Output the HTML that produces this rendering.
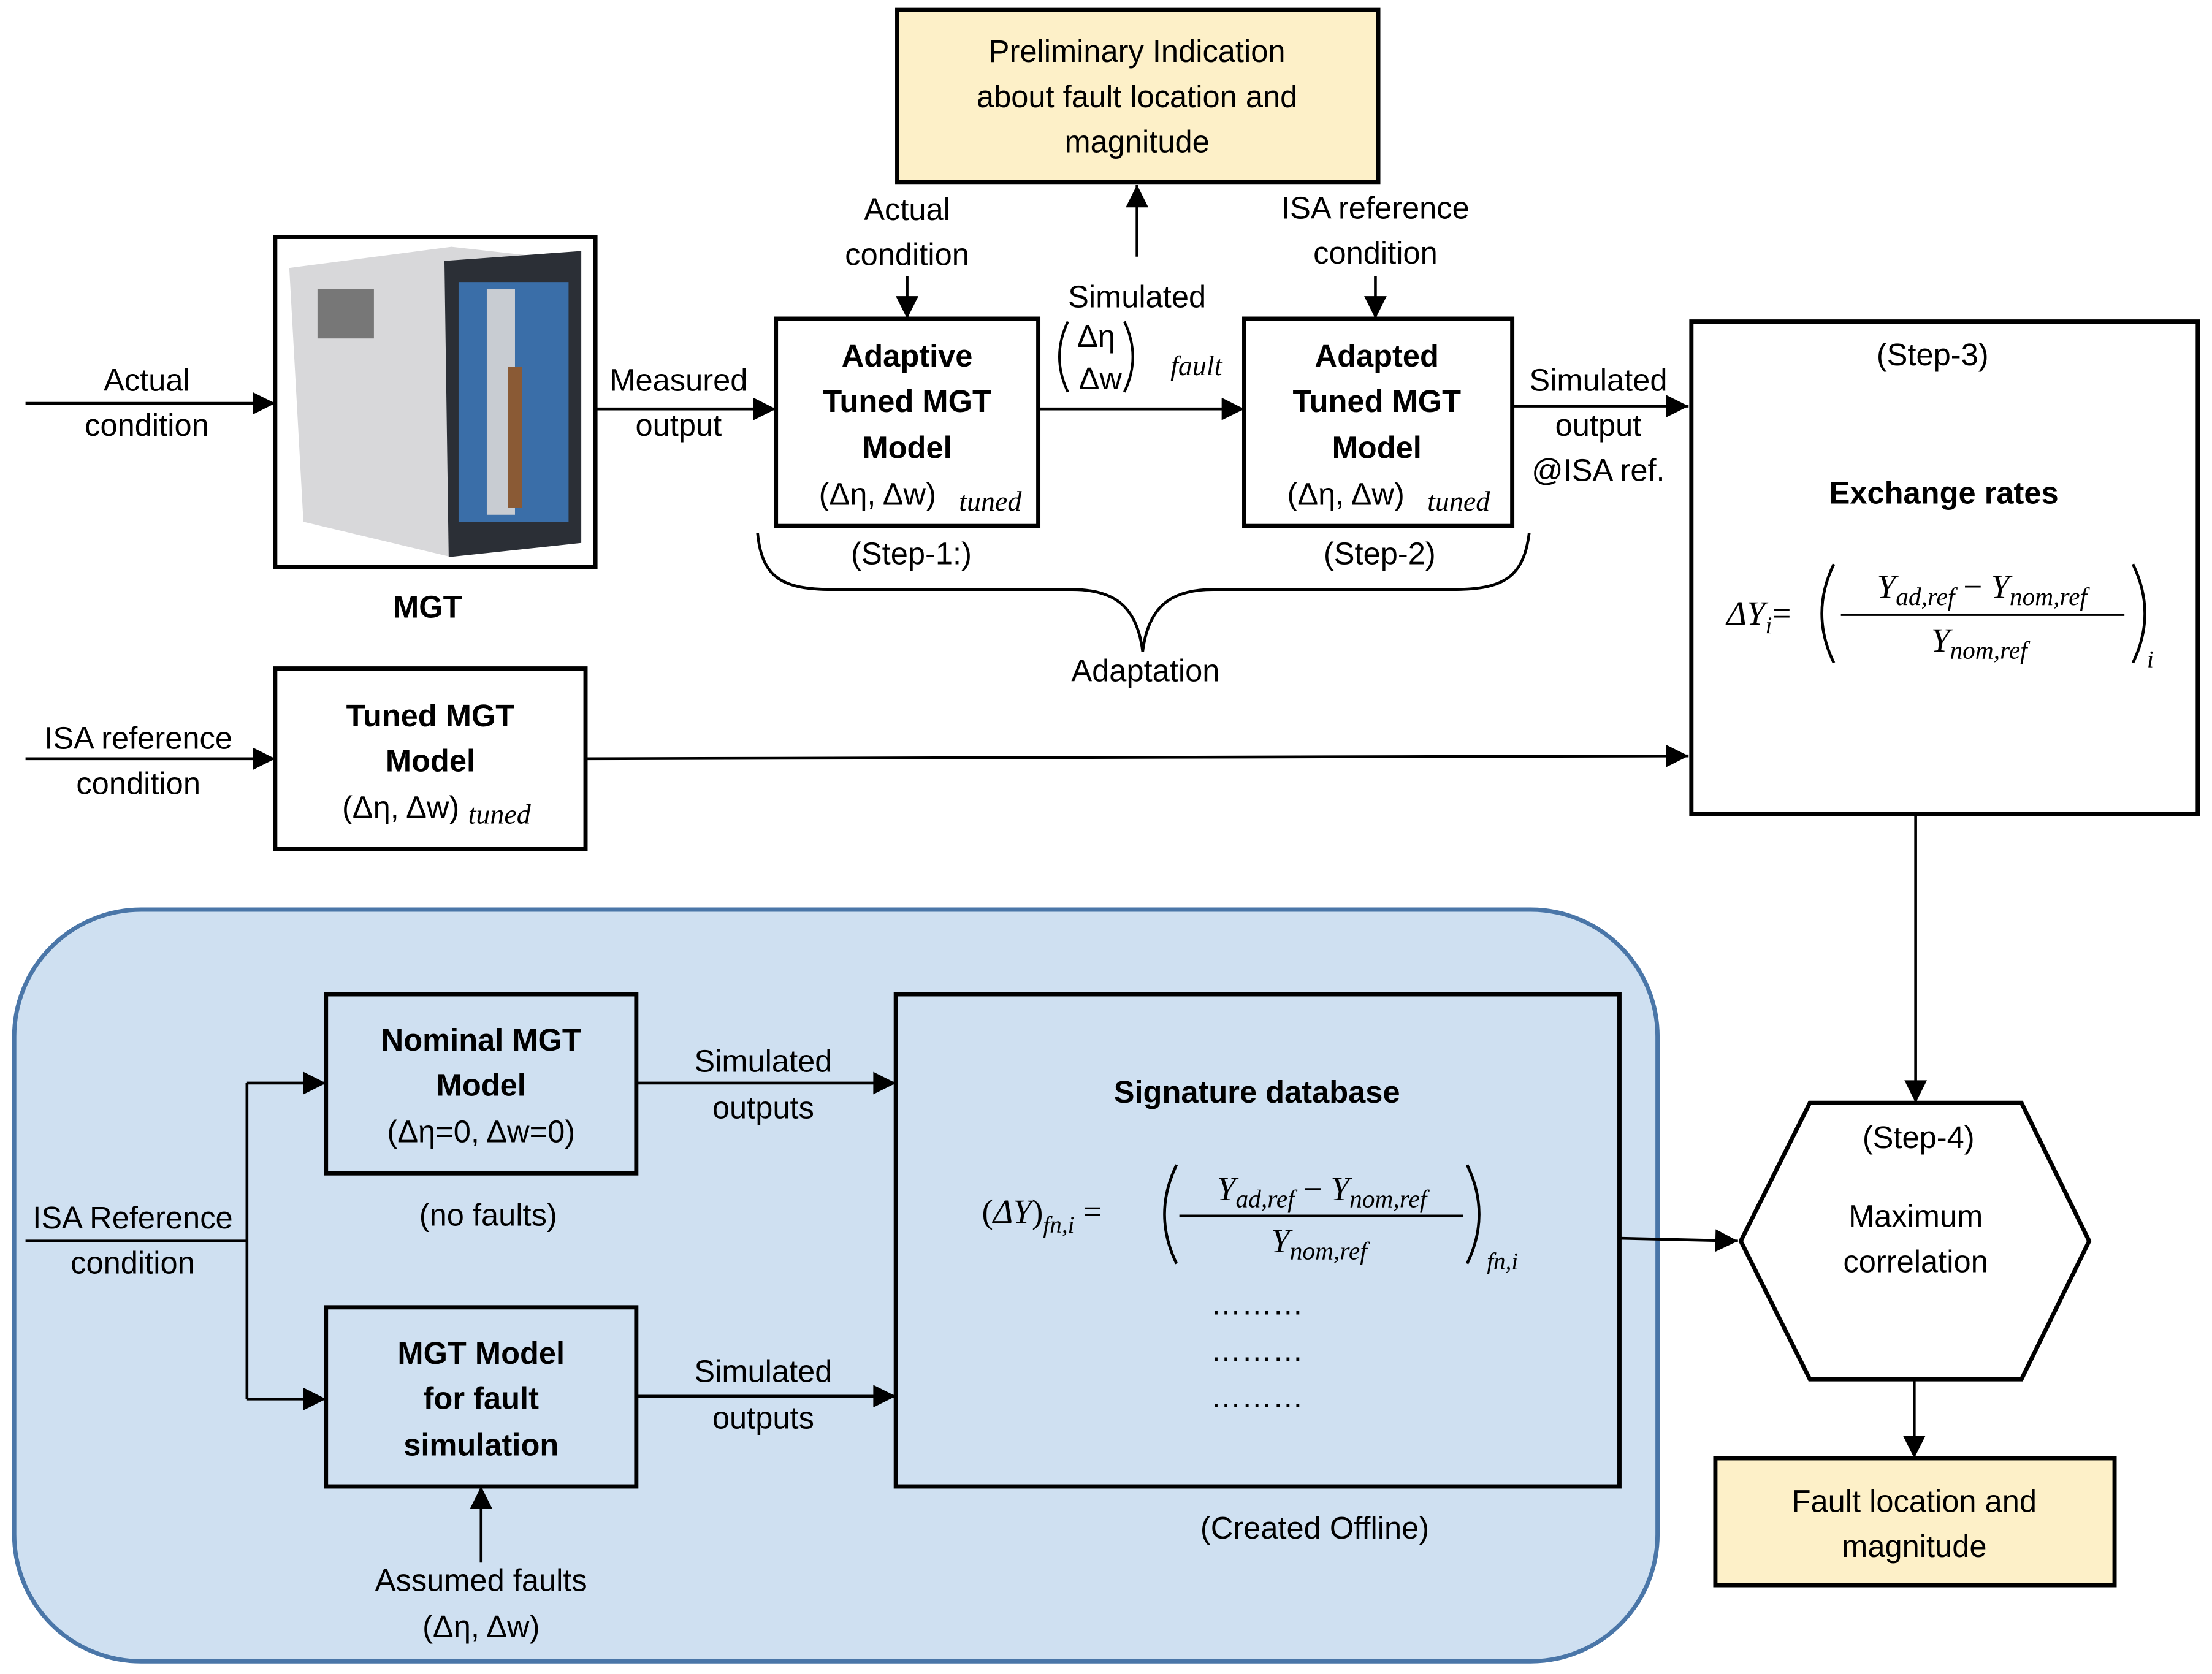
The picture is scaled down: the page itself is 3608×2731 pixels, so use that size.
<!DOCTYPE html>
<html><head><meta charset="utf-8"><style>
html,body{margin:0;padding:0;background:#fff}
svg{display:block}
text{font-family:"Liberation Sans",sans-serif;font-size:22px;fill:#000}
.b{font-weight:bold}
.m{font-family:"Liberation Serif",serif;font-style:italic}
</style></head><body>
<svg width="3608" height="2731" viewBox="0 0 1568 1187" xmlns="http://www.w3.org/2000/svg">
<defs>
<marker id="h" viewBox="0 0 10 10" markerWidth="20" markerHeight="16" refX="10" refY="5" orient="auto" markerUnits="userSpaceOnUse"><path d="M0,0 L10,5 L0,10 z"/></marker></defs>
<g stroke="#000" stroke-width="2" fill="none">
<rect x="10" y="645" width="1165" height="533" rx="90" fill="#cfe0f1" stroke="#4a76a8" stroke-width="3"/>
<rect x="636" y="7" width="341" height="122" fill="#fdf0c8" stroke-width="3"/>
<rect x="195" y="168" width="227" height="234" fill="#fff" stroke-width="3"/>
<rect x="550" y="226" width="186" height="147" fill="#fff" stroke-width="3"/>
<rect x="882" y="226" width="190" height="147" fill="#fff" stroke-width="3"/>
<rect x="1199" y="228" width="359" height="349" fill="#fff" stroke-width="3"/>
<rect x="195" y="474" width="220" height="128" fill="#fff" stroke-width="3"/>
<rect x="231" y="705" width="220" height="127" stroke-width="3"/>
<rect x="231" y="927" width="220" height="127" stroke-width="3"/>
<rect x="635" y="705" width="513" height="349" stroke-width="3"/>
<polygon points="1234,880 1283,782 1433,782 1481,880 1433,978 1283,978" fill="#fff" stroke-width="3"/>
<rect x="1216" y="1034" width="283" height="90" fill="#fdf0c8" stroke-width="3"/>
<path d="M18,286 H195" marker-end="url(#h)"/>
<path d="M422,290 H550" marker-end="url(#h)"/>
<path d="M736,290 H882" marker-end="url(#h)"/>
<path d="M1072,288 H1197" marker-end="url(#h)"/>
<path d="M643,196 V226" marker-end="url(#h)"/>
<path d="M975,196 V226" marker-end="url(#h)"/>
<path d="M806,182 V131" marker-end="url(#h)"/>
<path d="M18,538 H195" marker-end="url(#h)"/>
<path d="M415,538 L1197,536" marker-end="url(#h)"/>
<path d="M1358,577 V782" marker-end="url(#h)"/>
<path d="M1357,978 V1034" marker-end="url(#h)"/>
<path d="M1148,878 L1232,880" marker-end="url(#h)"/>
<path d="M18,880 H175 M175,768 V992"/>
<path d="M175,768 H231" marker-end="url(#h)"/>
<path d="M175,992 H231" marker-end="url(#h)"/>
<path d="M451,768 H635" marker-end="url(#h)"/>
<path d="M451,990 H635" marker-end="url(#h)"/>
<path d="M341,1108 V1054" marker-end="url(#h)"/>
<path d="M537,378 C540,410 555,418 590,418 H760 C790,418 806,430 810,462 C814,430 830,418 860,418 H1030 C1065,418 1080,410 1084,378"/>
<!-- parens -->
<path d="M757,228 Q745,253 757,278 M797,228 Q809,253 797,278" stroke-width="1.8"/>
<path d="M1300,400 Q1283,435 1300,470 M1512,400 Q1529,435 1512,470" stroke-width="2"/>
<path d="M834,826 Q817,861 834,896 M1040,826 Q1057,861 1040,896" stroke-width="2"/>
</g>
<g>
<polygon points="205,190 320,175 410,185 410,380 320,395 215,370" fill="#d8d8da"/>
<polygon points="315,185 412,178 412,385 318,395" fill="#2b2f36"/>
<rect x="325" y="200" width="78" height="170" fill="#3a6ea8"/>
<rect x="345" y="205" width="20" height="160" fill="#c8ccd2"/>
<rect x="360" y="260" width="10" height="100" fill="#8a5a35"/>
<rect x="225" y="205" width="40" height="35" fill="#777"/>
</g>
<g text-anchor="middle">
<text x="806" y="44">Preliminary Indication</text>
<text x="806" y="76">about fault location and</text>
<text x="806" y="108">magnitude</text>
<text x="104" y="277">Actual</text><text x="104" y="309">condition</text>
<text x="481" y="277">Measured</text><text x="481" y="309">output</text>
<text x="643" y="156">Actual</text><text x="643" y="188">condition</text>
<text x="975" y="155">ISA reference</text><text x="975" y="187">condition</text>
<text x="806" y="218">Simulated</text>
<text x="777" y="246">Δη</text><text x="780" y="276">Δw</text>
<text x="848" y="266" class="m" style="font-size:20px">fault</text>
<text x="643" y="260" class="b">Adaptive</text>
<text x="643" y="292" class="b">Tuned MGT</text>
<text x="643" y="325" class="b">Model</text>
<text x="622" y="358">(Δη, Δw)</text><text x="702" y="362" class="m" style="font-size:20px">tuned</text>
<text x="976" y="260" class="b">Adapted</text>
<text x="976" y="292" class="b">Tuned MGT</text>
<text x="976" y="325" class="b">Model</text>
<text x="954" y="358">(Δη, Δw)</text><text x="1034" y="362" class="m" style="font-size:20px">tuned</text>
<text x="646" y="400">(Step-1:)</text>
<text x="978" y="400">(Step-2)</text>
<text x="812" y="483">Adaptation</text>
<text x="1133" y="277">Simulated</text><text x="1133" y="309">output</text><text x="1133" y="341">@ISA ref.</text>
<text x="1370" y="259">(Step-3)</text>
<text x="1378" y="357" class="b">Exchange rates</text>
<text x="303" y="438" class="b">MGT</text>
<text x="98" y="531">ISA reference</text><text x="98" y="563">condition</text>
<text x="305" y="515" class="b">Tuned MGT</text>
<text x="305" y="547" class="b">Model</text>
<text x="284" y="580">(Δη, Δw)</text><text x="354" y="584" class="m" style="font-size:20px">tuned</text>
<text x="341" y="745" class="b">Nominal MGT</text>
<text x="341" y="777" class="b">Model</text>
<text x="341" y="810">(Δη=0, Δw=0)</text>
<text x="346" y="869">(no faults)</text>
<text x="341" y="967" class="b">MGT Model</text>
<text x="341" y="999" class="b">for fault</text>
<text x="341" y="1032" class="b">simulation</text>
<text x="341" y="1128">Assumed faults</text>
<text x="341" y="1161">(Δη, Δw)</text>
<text x="94" y="871">ISA Reference</text><text x="94" y="903">condition</text>
<text x="541" y="760">Simulated</text><text x="541" y="793">outputs</text>
<text x="541" y="980">Simulated</text><text x="541" y="1013">outputs</text>
<text x="891" y="782" class="b">Signature database</text>
<text x="891" y="932">………</text><text x="891" y="965">………</text><text x="891" y="998">………</text>
<text x="932" y="1091">(Created Offline)</text>
<text x="1360" y="814">(Step-4)</text>
<text x="1358" y="870">Maximum</text><text x="1358" y="902">correlation</text>
<text x="1357" y="1072">Fault location and</text><text x="1357" y="1104">magnitude</text>
</g>
<g>
<text x="1224" y="443" class="m" style="font-size:24px">ΔY<tspan font-size="17" dy="6">i</tspan><tspan dy="-6" style="font-style:normal">=</tspan></text>
<text x="1522" y="473" class="m" style="font-size:17px">i</text>
<text x="1405" y="424" class="m" text-anchor="middle" style="font-size:24px">Y<tspan font-size="18" dy="5">ad,ref</tspan><tspan dy="-5" style="font-style:normal"> − </tspan>Y<tspan font-size="18" dy="5">nom,ref</tspan></text>
<line x1="1305" y1="436" x2="1506" y2="436" stroke="#000" stroke-width="1.5"/>
<text x="1403" y="462" class="m" text-anchor="middle" style="font-size:24px">Y<tspan font-size="18" dy="5">nom,ref</tspan></text>
<text x="696" y="867" class="m" style="font-size:24px"><tspan style="font-style:normal">(</tspan>ΔY<tspan style="font-style:normal">)</tspan><tspan font-size="17" dy="7">fn,i</tspan><tspan dy="-7" style="font-style:normal"> =</tspan></text>
<text x="1054" y="900" class="m" style="font-size:17px">fn,i</text>
<text x="937" y="851" class="m" text-anchor="middle" style="font-size:24px">Y<tspan font-size="18" dy="5">ad,ref</tspan><tspan dy="-5" style="font-style:normal"> − </tspan>Y<tspan font-size="18" dy="5">nom,ref</tspan></text>
<line x1="836" y1="862" x2="1037" y2="862" stroke="#000" stroke-width="1.5"/>
<text x="935" y="888" class="m" text-anchor="middle" style="font-size:24px">Y<tspan font-size="18" dy="5">nom,ref</tspan></text>
</g>
</svg>
</body></html>
